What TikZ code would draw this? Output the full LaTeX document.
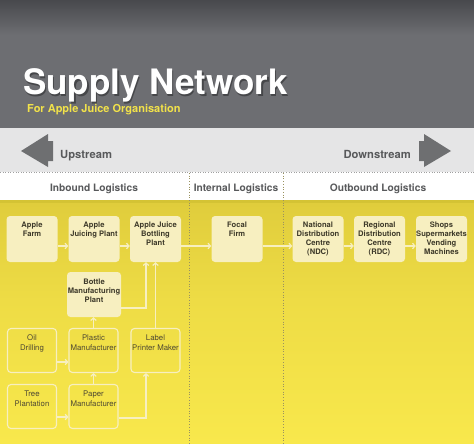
\documentclass[tikz,border=0pt]{standalone}
\usepackage{fontspec}
\setmainfont{TeX Gyre Heros}
\usetikzlibrary{arrows.meta}
\definecolor{hdtop}{HTML}{48494D}
\definecolor{hdbot}{HTML}{6D6E72}
\definecolor{band}{HTML}{E5E5E6}
\definecolor{arrg}{HTML}{6E6F71}
\definecolor{txg}{HTML}{58595B}
\definecolor{ytop}{HTML}{E0CD3C}
\definecolor{ymid}{HTML}{EEDC45}
\definecolor{ybot}{HTML}{F8E84C}
\definecolor{yline}{HTML}{D4C334}
\definecolor{boxc}{HTML}{F7EFC0}
\definecolor{boxt}{HTML}{3E3A2A}
\definecolor{lowt}{HTML}{4E4832}
\definecolor{subt}{HTML}{F2E24A}
\definecolor{dotc}{HTML}{9A9260}
\definecolor{dotg}{HTML}{A0A0A0}
\newcommand{\mybox}[5]{%
  \node[#1] (#2) at (#3,#4) {};
  \node[#1 text] (#2-t) at (#2.north) {#5};}
\begin{document}
\begin{tikzpicture}[x=1pt,y=-1pt,
  up/.style={rectangle, rounded corners=3.5pt, fill=boxc, minimum width=51pt, minimum height=46pt, inner sep=0pt},
  up text/.style={anchor=north, yshift=-5.5pt, inner sep=0pt, align=center, text=boxt, font=\bfseries\fontsize{7.6}{9.2}\selectfont},
  mid/.style={rectangle, rounded corners=3.5pt, fill=boxc, minimum width=54pt, minimum height=45pt, inner sep=0pt},
  mid text/.style={anchor=north, yshift=-7pt, inner sep=0pt, align=center, text=boxt, font=\bfseries\fontsize{7.6}{9.2}\selectfont},
  low/.style={rectangle, rounded corners=3.5pt, draw=boxc, line width=1.1pt, minimum width=49pt, minimum height=44pt, inner sep=0pt},
  low text/.style={anchor=north, yshift=-7pt, inner sep=0pt, align=center, text=lowt, font=\fontsize{7.8}{9.2}\selectfont},
  arr/.style={draw=boxc, line width=1.2pt, -{Straight Barb[length=2.5pt,width=5.5pt]}},
  hdr/.style={anchor=base, inner sep=0pt, text=txg, font=\bfseries\fontsize{10.2}{12}\selectfont},
  dir/.style={inner sep=0pt, text=txg, font=\bfseries\fontsize{11.2}{13}\selectfont}]
\useasboundingbox (0,0) rectangle (474,444);
% backgrounds
\shade[top color=hdtop, bottom color=hdbot] (0,0) rectangle (474,35);
\fill[hdbot] (0,35) rectangle (474,128.5);
\fill[band] (0,128) rectangle (474,172);
\fill[white] (0,172) rectangle (474,200);
\fill[yline] (0,200) rectangle (474,203);
\shade[top color=ytop, bottom color=ymid] (0,203) rectangle (474,300.5);
\shade[top color=ymid, bottom color=ybot] (0,300) rectangle (474,444);
% dotted separators
\draw[dotg, dotted, line width=0.6pt] (0,172.5) -- (474,172.5);
\draw[dotc, dotted, line width=0.7pt] (189,173) -- (189,444);
\draw[dotc, dotted, line width=0.7pt] (283,173) -- (283,444);
% title
\node[anchor=base west, inner sep=0pt, text=black, opacity=0.35, font=\bfseries\fontsize{35}{38}\selectfont] (titles) at (24.3,96.3) {Supply Network};
\node[anchor=base west, inner sep=0pt, text=white, font=\bfseries\fontsize{35}{38}\selectfont] (title) at (23,95) {Supply Network};
\node[anchor=base west, inner sep=0pt, text=subt, font=\bfseries\fontsize{11}{13}\selectfont] (sub) at (27,113) {For Apple Juice Organisation};
% direction arrows
\fill[arrg] (21,151) -- (48,134) -- (48,141) -- (53,141) -- (53,161) -- (48,161) -- (48,167) -- cycle;
\fill[arrg] (451,151) -- (424,134) -- (424,141) -- (419,141) -- (419,161) -- (424,161) -- (424,167) -- cycle;
\node[dir, anchor=base west] (ups) at (60,158) {Upstream};
\node[dir, anchor=base east] (downs) at (411,158) {Downstream};
% headers
\node[hdr] (inb) at (94,191) {Inbound Logistics};
\node[hdr] (intl) at (236,191) {Internal Logistics};
\node[hdr] (outb) at (378,191) {Outbound Logistics};
% boxes
\mybox{up}{af}{32}{239}{Apple\\Farm}
\mybox{up}{ajp}{94}{239}{Apple\\Juicing Plant}
\mybox{up}{ajb}{155.5}{239}{Apple Juice\\Bottling\\Plant}
\mybox{up}{ff}{237}{239}{Focal\\Firm}
\mybox{up}{ndc}{318}{239}{National\\Distribution\\Centre\\(NDC)}
\mybox{up}{rdc}{379.5}{239}{Regional\\Distribution\\Centre\\(RDC)}
\mybox{up}{shop}{441.5}{239}{Shops\\Supermarkets\\Vending\\Machines}
\mybox{mid}{bmp}{94}{294.5}{Bottle\\Manufacturing\\Plant}
\mybox{low}{oil}{32}{350.5}{Oil\\Drilling}
\mybox{low}{pm}{93.5}{350.5}{Plastic\\Manufacturer}
\mybox{low}{lpm}{155.5}{350.5}{Label\\Printer Maker}
\mybox{low}{tree}{32}{406.5}{Tree\\Plantation}
\mybox{low}{ppm}{93.5}{406.5}{Paper\\Manufacturer}
% connectors
\draw[arr] ([yshift=-7pt]af.east) -- ([yshift=-7pt]ajp.west);
\draw[arr] ([yshift=-7pt]ajp.east) -- ([yshift=-7pt]ajb.west);
\draw[arr] ([yshift=-7pt]ajb.east) -- ([yshift=-7pt]ff.west);
\draw[arr] ([yshift=-7pt]ff.east) -- ([yshift=-7pt]ndc.west);
\draw[arr] ([yshift=-7pt]ndc.east) -- ([yshift=-7pt]rdc.west);
\draw[arr] ([yshift=-7pt]rdc.east) -- ([yshift=-7pt]shop.west);
\draw[arr] ([yshift=-13.5pt]bmp.east) -| ([xshift=-9.5pt]ajb.south);
\draw[arr] (lpm.north) -- (ajb.south);
\draw[arr] ([yshift=-11.5pt]oil.east) -- ([yshift=-11.5pt]pm.west);
\draw[arr] (pm.north) -- (pm.north |- bmp.south);
\draw[arr] (ppm.north) -- (pm.south);
\draw[arr] ([yshift=-10.5pt]tree.east) -- ([yshift=-10.5pt]ppm.west);
\draw[arr] ([yshift=-11.5pt]ppm.east) -| ([xshift=-9.5pt]lpm.south);
\end{tikzpicture}
\end{document}
